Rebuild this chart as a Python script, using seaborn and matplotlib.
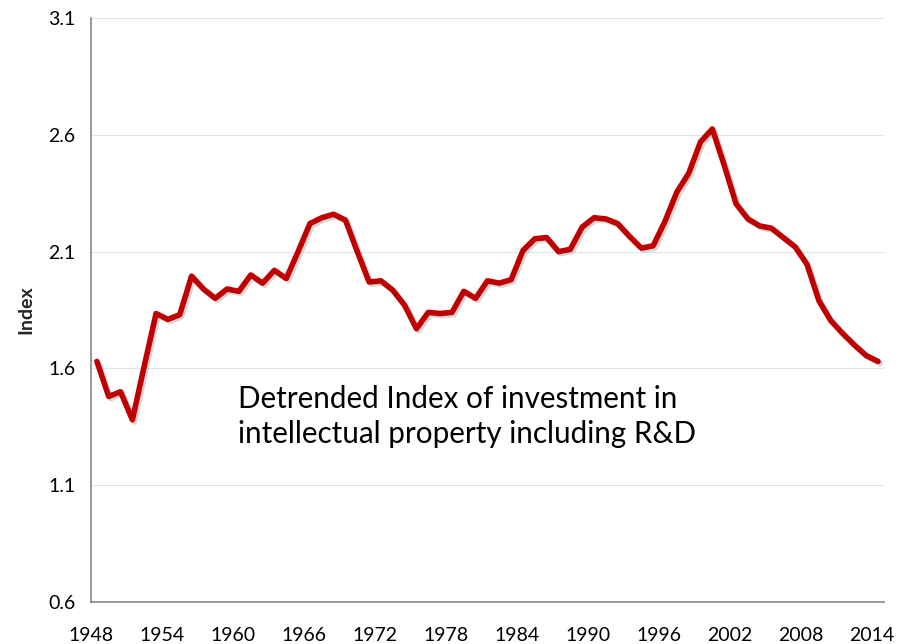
import numpy as np
import pandas as pd
import seaborn as sns
import matplotlib
matplotlib.use('Agg')
import matplotlib.pyplot as plt
import matplotlib.patheffects as pe

# Données
years = list(range(1948, 2015))
index_values = [
    1.63, 1.48, 1.50, 1.38, 1.61, 1.835, 1.81, 1.83, 1.995, 1.94,
    1.90, 1.94, 1.93, 2.00, 1.965, 2.02, 1.985, 2.10, 2.22, 2.245,
    2.26, 2.235, 2.10, 1.97, 1.975, 1.935, 1.87, 1.77, 1.84, 1.835,
    1.84, 1.93, 1.90, 1.975, 1.965, 1.98, 2.105, 2.155, 2.16, 2.10,
    2.11, 2.205, 2.245, 2.24, 2.22, 2.165, 2.115, 2.125, 2.23, 2.355,
    2.435, 2.57, 2.625, 2.47, 2.305, 2.24, 2.21, 2.20, 2.16, 2.12,
    2.045, 1.89, 1.805, 1.75, 1.70, 1.655, 1.63,
]
tick_labels = ['1948', '1954', '1960', '1966', '1972', '1978',
               '1984', '1990', '1996', '2002', '2008', '2014']
y_ticks = [0.6, 1.1, 1.6, 2.1, 2.6, 3.1]
annotation = "Detrended Index of investment in\nintellectual property including R&D"

df = pd.DataFrame({'Year': years, 'Index': index_values})

sns.set_style('white')
plt.rcParams['font.family'] = ['Lato', 'DejaVu Sans']

fig = plt.figure(figsize=(9.06, 6.44), dpi=100)
ax = fig.add_axes([0.1004, 0.0652, 0.8753, 0.9068])

sns.lineplot(data=df, x='Year', y='Index', ax=ax, color='#C00000', linewidth=4.0)
line = ax.get_lines()[0]
line.set_solid_joinstyle('round')
line.set_solid_capstyle('round')
line.set_path_effects([
    pe.SimpleLineShadow(offset=(1.5, -1.5), shadow_color='#888888', alpha=0.35),
    pe.Normal(),
])

# Axe des catégories (entre graduations)
ax.set_xlim(1947.5, 2014.5)
ax.set_xticks([1947.5 + 6 * i for i in range(len(tick_labels))])
ax.set_xticklabels(tick_labels)
ax.set_ylim(0.6, 3.1)
ax.set_yticks(y_ticks)
ax.set_yticklabels([f"{v:.1f}" for v in y_ticks])

ax.grid(axis='y', color='#DCE6F2', linewidth=0.8)
ax.set_axisbelow(True)
for side in ['top', 'right']:
    ax.spines[side].set_visible(False)
for side in ['left', 'bottom']:
    ax.spines[side].set_color('#868686')
    ax.spines[side].set_linewidth(1.2)

ax.tick_params(axis='both', which='major', direction='out', length=5,
               width=1, color='#868686', labelsize=14, labelcolor='black')
ax.tick_params(axis='x', pad=13)
ax.tick_params(axis='y', pad=6)

ax.set_xlabel('')
ax.set_ylabel('Index', fontsize=14, fontweight='bold', labelpad=10)

ax.text(0.185, 0.317, annotation, transform=ax.transAxes, fontsize=21.3,
        ha='left', va='center', linespacing=1.3, color='black')

fig.savefig('out.png', dpi=100)
plt.close(fig)
